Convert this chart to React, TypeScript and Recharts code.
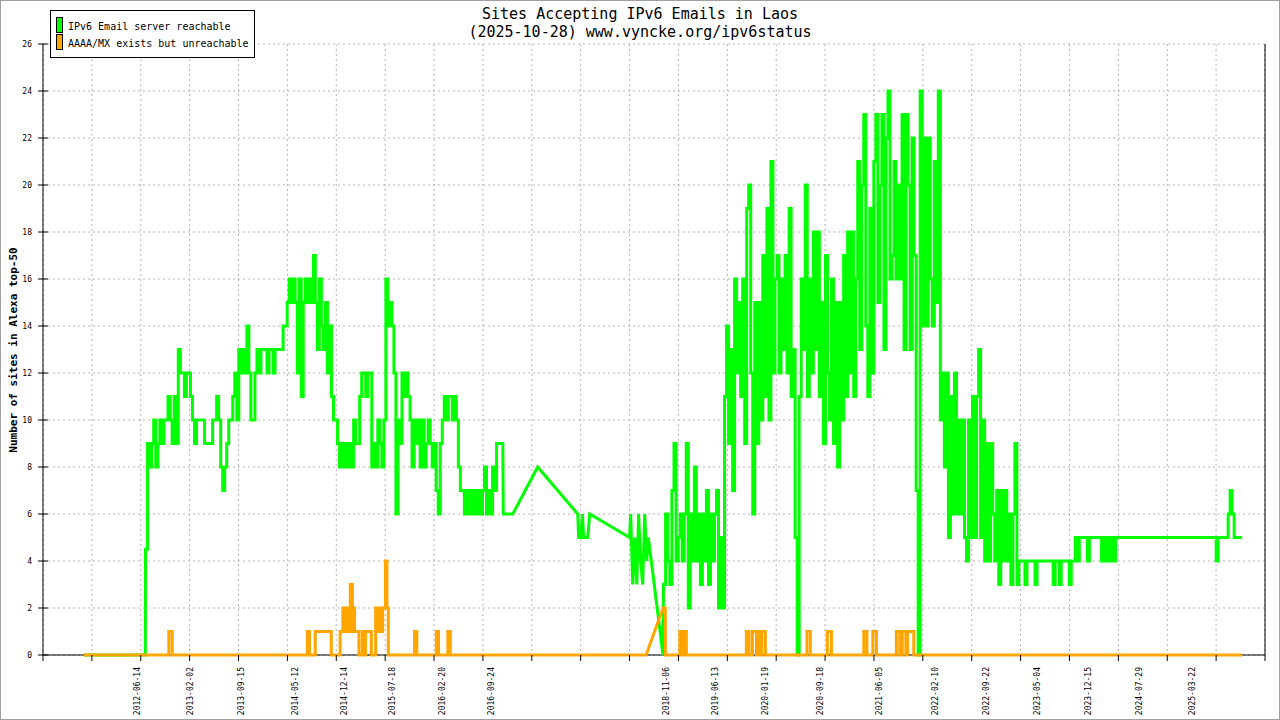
import { LineChart, Line, XAxis, YAxis, CartesianGrid, ReferenceLine } from "recharts";

const FONT = "'DejaVu Sans Mono', 'Liberation Mono', monospace";
const GREEN = "#00ff00";
const ORANGE = "#ffa500";

// x axis is a plain time axis, in days counted from 2012-06-14
const BASE = Date.UTC(2012, 5, 14);
function dayOf(iso: string) {
  const [y, m, d] = iso.split("-").map(Number);
  return Math.round((Date.UTC(y, m - 1, d) - BASE) / 86400000);
}

const labelDates = [
  "2012-06-14", "2013-02-02", "2013-09-15", "2014-05-12", "2014-12-14",
  "2015-07-18", "2016-02-20", "2016-09-24", "2018-11-06", "2019-06-13",
  "2020-01-19", "2020-09-18", "2021-06-05", "2022-02-10", "2022-09-22",
  "2023-05-04", "2023-12-15", "2024-07-29", "2025-03-22",
];
const firstTick = "2011-04-26";
const tickEvery = 216;
const tickCount = 26;
const yTicks = [0, 2, 4, 6, 8, 10, 12, 14, 16, 18, 20, 22, 24, 26];

// "IPv6 Email server reachable"; each value holds over its share of the run
const reachableLead: [string, number][] = [["2011-10-24", 0], ["2012-07-21", 0]];
const reachable2012 = [4.5, 9, 8, 9, 10, 8, 9, 10, 9, 10, 10, 11, 10, 9, 11, 9, 13, 12];
const reachable2013 = [
  12, 11, 12, 12, 11, 10, 9, 10, 10, 10, 10, 9, 9, 9, 9, 10, 10, 11, 10, 8, 7,
  8, 9, 10, 10, 11, 12, 10, 13, 12, 13, 12, 14, 12, 10, 10, 12, 13, 12, 13, 13,
];
const reachable2014 = [
  13, 12, 13, 13, 12, 13, 13, 13, 13, 14, 14, 15, 16, 15, 16, 15, 12, 16, 11, 15, 16,
  15, 16, 15, 17, 15, 13, 16, 14, 13, 15, 12, 14, 11, 10, 10, 9, 8, 9, 8, 9,
];
const reachable2015 = [
  8, 9, 8, 10, 9, 9, 11, 12, 12, 11, 12, 12, 8, 9, 8, 10, 9, 8, 10, 16, 14,
  15, 14, 12, 6, 10, 9, 12, 11, 12, 11, 10, 8, 10, 9, 10, 8, 10, 8, 9, 10,
];
const reachable2016 = [
  9, 8, 9, 7, 6, 9, 10, 11, 10, 11, 11, 10, 11, 10, 8, 7, 7, 6,
  7, 6, 7, 6, 7, 6, 7, 6, 7, 8, 6, 7, 6, 8, 7, 9, 9, 9,
];
const reachableGap: [string, number][] = [
  ["2016-11-17", 9], ["2016-11-19", 6], ["2016-12-31", 6], ["2017-04-20", 8],
  ["2017-10-14", 6], ["2017-10-18", 5], ["2017-10-27", 5], ["2017-11-04", 6],
  ["2017-11-09", 5], ["2017-11-27", 5], ["2017-12-06", 6], ["2018-05-31", 5],
  ["2018-06-05", 6], ["2018-06-14", 3], ["2018-06-23", 5], ["2018-07-02", 3],
  ["2018-07-10", 6], ["2018-07-19", 4], ["2018-07-28", 3], ["2018-08-06", 6],
  ["2018-08-15", 4], ["2018-08-22", 5], ["2018-10-26", 0],
];
const reachable2018 = [3, 6, 4, 3, 7, 9, 4];
const reachable2019 = [
  5, 6, 4, 6, 9, 2, 6, 4, 8, 4, 6, 3, 6, 4, 7, 3, 6, 4, 6, 7, 2,
  5, 2, 11, 14, 9, 13, 7, 16, 12, 15, 11, 16, 9, 19, 20, 12, 6, 15, 9, 15,
];
const reachable2020 = [
  10, 17, 11, 19, 10, 21, 12, 16, 17, 12, 16, 13, 17, 12, 19, 11, 13, 5, 0, 11, 16,
  13, 20, 11, 16, 12, 18, 13, 18, 11, 15, 9, 17, 12, 10, 16, 9, 15, 8, 15, 10,
];
const reachable2021 = [
  17, 11, 18, 12, 18, 11, 16, 21, 13, 20, 23, 14, 11, 19, 12, 21, 23, 15, 20, 23, 13,
  22, 24, 16, 17, 21, 16, 20, 16, 23, 13, 23, 20, 13, 22, 17, 7, 0, 24, 14, 22,
];
const reachable2022 = [
  14, 22, 16, 14, 21, 15, 24, 10, 12, 8, 12, 5, 11, 6, 12, 6, 10, 6, 10, 5, 4,
  10, 5, 11, 5, 11, 13, 5, 10, 4, 9, 4, 9, 6, 4, 7, 3, 7, 4, 7, 4,
];
const reachable2023 = [
  6, 3, 6, 9, 3, 4, 4, 4, 3, 4, 4, 4, 4, 3, 4, 4, 4, 4, 4, 4, 4,
  4, 3, 4, 4, 3, 4, 4, 4, 4, 3, 4, 4, 5, 4, 5, 5, 5, 5, 4, 5,
];
const reachable2024 = [
  5, 5, 5, 5, 5, 4, 5, 4, 5, 4, 5, 4, 5, 5, 5, 5, 5, 5, 5, 5, 5,
  5, 5, 5, 5, 5, 5, 5, 5, 5, 5, 5, 5, 5, 5, 5, 5, 5, 5, 5, 5,
];
const reachable2025 = [
  5, 5, 5, 5, 5, 5, 5, 5, 5, 5, 5, 5, 5, 5, 5, 5, 5, 5, 5, 5, 5,
  4, 5, 5, 5, 5, 5, 6, 7, 6, 5, 5, 5, 5,
];
const reachableTail: [string, number][] = [["2025-10-28", 5]];

const runsBeforeGap = [
  { from: "2012-07-22", to: "2013-01-01", values: reachable2012 },
  { from: "2013-01-01", to: "2014-01-01", values: reachable2013 },
  { from: "2014-01-01", to: "2015-01-01", values: reachable2014 },
  { from: "2015-01-01", to: "2016-01-01", values: reachable2015 },
  { from: "2016-01-01", to: "2016-11-16", values: reachable2016 },
];
const runsAfterGap = [
  { from: "2018-10-28", to: "2019-01-01", values: reachable2018 },
  { from: "2019-01-01", to: "2020-01-01", values: reachable2019 },
  { from: "2020-01-01", to: "2021-01-01", values: reachable2020 },
  { from: "2021-01-01", to: "2022-01-01", values: reachable2021 },
  { from: "2022-01-01", to: "2023-01-01", values: reachable2022 },
  { from: "2023-01-01", to: "2024-01-01", values: reachable2023 },
  { from: "2024-01-01", to: "2025-01-01", values: reachable2024 },
  { from: "2025-01-01", to: "2025-10-28", values: reachable2025 },
];

// "AAAA/MX exists but unreachable": value holds from each date until the next one;
// a third element true means the data joins the previous point directly (missing days)
const unreachableChanges: [string, number, boolean?][] = [
  ["2011-10-24", 0], ["2012-11-02", 1], ["2012-11-17", 0],
  ["2014-07-07", 1], ["2014-07-17", 0], ["2014-08-11", 1], ["2014-10-21", 0],
  ["2014-11-29", 1], ["2014-12-11", 2], ["2014-12-22", 1], ["2014-12-26", 2],
  ["2015-01-02", 1], ["2015-01-13", 3], ["2015-01-22", 1], ["2015-01-25", 2],
  ["2015-02-01", 1], ["2015-02-20", 0], ["2015-03-07", 1], ["2015-03-15", 0],
  ["2015-03-21", 1], ["2015-04-16", 0], ["2015-05-05", 2], ["2015-05-14", 1],
  ["2015-05-20", 2], ["2015-05-31", 1], ["2015-06-05", 2], ["2015-06-17", 4],
  ["2015-06-24", 2], ["2015-06-30", 0],
  ["2015-10-24", 1], ["2015-11-03", 0], ["2016-01-28", 1], ["2016-02-07", 0],
  ["2016-03-19", 1], ["2016-03-30", 0],
  ["2018-08-12", 0], ["2018-10-26", 2, true], ["2018-11-05", 0],
  ["2019-01-08", 1], ["2019-01-14", 0], ["2019-01-25", 1], ["2019-02-06", 0],
  ["2019-10-29", 1], ["2019-11-10", 0], ["2019-11-25", 1], ["2019-12-13", 0],
  ["2019-12-17", 1], ["2019-12-30", 0], ["2020-01-05", 1], ["2020-01-21", 0],
  ["2020-07-23", 1], ["2020-08-07", 0], ["2020-10-21", 1], ["2020-11-08", 0],
  ["2021-03-31", 1], ["2021-04-14", 0], ["2021-05-10", 1], ["2021-05-26", 0],
  ["2021-08-22", 1], ["2021-09-06", 0], ["2021-09-17", 1], ["2021-10-03", 0],
  ["2021-10-10", 1], ["2021-11-07", 0],
  ["2025-10-28", 0],
];

type Pt = { day: number; value: number };

function runPoints(runs: { from: string; to: string; values: number[] }[]): Pt[] {
  return runs.flatMap((r) => {
    const a = dayOf(r.from);
    const step = (dayOf(r.to) - a) / r.values.length;
    return r.values.flatMap((v, i) => [
      { day: a + i * step, value: v },
      { day: a + (i + 1) * step, value: v },
    ]);
  });
}
const pairPoints = (list: [string, number][]): Pt[] =>
  list.map(([d, v]) => ({ day: dayOf(d), value: v }));

const reachableData: Pt[] = [
  ...pairPoints(reachableLead),
  ...runPoints(runsBeforeGap),
  ...pairPoints(reachableGap),
  ...runPoints(runsAfterGap),
  ...pairPoints(reachableTail),
];

const unreachableData: Pt[] = [];
let prev: number | null = null;
for (const [d, v, joined] of unreachableChanges) {
  const day = dayOf(d);
  if (prev !== null && !joined && prev !== v) unreachableData.push({ day, value: prev });
  unreachableData.push({ day, value: v });
  prev = v;
}

const tick0 = dayOf(firstTick);
const gridDays = Array.from({ length: tickCount }, (_, k) => tick0 + k * tickEvery);
const labelByDay = new Map(labelDates.map((s) => [dayOf(s), s]));
const gridSet = new Set(gridDays);
const xTicks = Array.from(new Set([...gridDays, ...labelByDay.keys()])).sort((a, b) => a - b);
const xDomain = [gridDays[0], gridDays[gridDays.length - 1]];

function XTick(props: any) {
  const { x, y, payload } = props;
  const label = labelByDay.get(payload.value);
  return (
    <g>
      {gridSet.has(payload.value) && <line x1={x} x2={x} y1={y} y2={y + 6} stroke="#000" />}
      {label && (
        <text
          x={x + 3}
          y={y + 12}
          transform={`rotate(-90 ${x + 3} ${y + 12})`}
          textAnchor="end"
          fontSize={8}
          fontFamily={FONT}
          fill="#000"
        >
          {label}
        </text>
      )}
    </g>
  );
}

function YTick(props: any) {
  const { x, y, payload } = props;
  return (
    <g>
      <line x1={x + 6} x2={x + 16} y1={y} y2={y} stroke="#000" />
      <text x={x} y={y + 3} textAnchor="end" fontSize={8} fontFamily={FONT} fill="#000">
        {payload.value}
      </text>
    </g>
  );
}

export default function App() {
  return (
    <div style={{ position: "fixed", left: 0, top: 0, width: 1280, height: 720, background: "#fff", overflow: "hidden" }}>
      <LineChart width={1280} height={720} margin={{ top: 44, right: 15, bottom: 0, left: 0 }}>
        <CartesianGrid stroke="#b4b4b4" strokeDasharray="2 3" verticalValues={gridDays} />
        <XAxis
          type="number"
          dataKey="day"
          domain={xDomain}
          ticks={xTicks}
          interval={0}
          allowDataOverflow
          height={65}
          tickSize={0}
          tickMargin={0}
          tickLine={false}
          axisLine={{ stroke: "#000" }}
          tick={<XTick />}
        />
        <YAxis
          type="number"
          domain={[0, 26]}
          ticks={yTicks}
          interval={0}
          width={43}
          tickSize={5}
          tickMargin={6}
          tickLine={false}
          axisLine={{ stroke: "#000" }}
          tick={<YTick />}
        />
        <ReferenceLine x={xDomain[1]} stroke="#000" strokeWidth={1} />
        <Line
          data={reachableData}
          dataKey="value"
          type="linear"
          stroke={GREEN}
          strokeWidth={3}
          dot={false}
          activeDot={false}
          isAnimationActive={false}
          zIndex={600}
        />
        <Line
          data={unreachableData}
          dataKey="value"
          type="linear"
          stroke={ORANGE}
          strokeWidth={3}
          dot={false}
          activeDot={false}
          isAnimationActive={false}
          zIndex={610}
        />
      </LineChart>
      <svg width={1280} height={720} style={{ position: "absolute", left: 0, top: 0, pointerEvents: "none" }}>
        <text x={640} y={19} textAnchor="middle" fontSize={15} fontFamily={FONT} fill="#000">
          Sites Accepting IPv6 Emails in Laos
        </text>
        <text x={640} y={37} textAnchor="middle" fontSize={15} fontFamily={FONT} fill="#000">
          (2025-10-28) www.vyncke.org/ipv6status
        </text>
        <text
          x={17}
          y={350}
          transform="rotate(-90 17 350)"
          textAnchor="middle"
          fontSize={11}
          fontWeight="bold"
          fontFamily={FONT}
          fill="#000"
        >
          Number of sites in Alexa top-50
        </text>
        <rect x={50.5} y={10.5} width={204} height={47} fill="#fff" stroke="#000" />
        <rect x={56.5} y={17.5} width={6} height={15} fill={GREEN} stroke="#000" />
        <text x={68} y={30} fontSize={10} fontFamily={FONT} fill="#000">IPv6 Email server reachable</text>
        <rect x={56.5} y={34.5} width={6} height={15} fill={ORANGE} stroke="#000" />
        <text x={68} y={47} fontSize={10} fontFamily={FONT} fill="#000">AAAA/MX exists but unreachable</text>
        <rect x={0.5} y={0.5} width={1279} height={719} fill="none" stroke="#a0a0a0" />
      </svg>
    </div>
  );
}
